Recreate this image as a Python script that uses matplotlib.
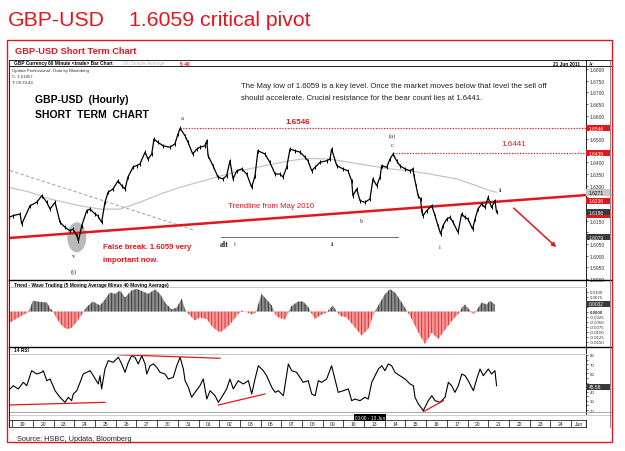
import numpy as np
import matplotlib.pyplot as plt
from matplotlib.lines import Line2D
from matplotlib.patches import Rectangle, Ellipse
from matplotlib.transforms import blended_transform_factory

W, H = 625, 452
RED = '#e3161d'

# x values are trading-day index: 0 = 19 May, one unit per day (24 hourly bars)
day_labels = ['19', '20', '23', '24', '25', '26', '27', '30', '31', '01', '02', '03', '06', '07',
              '08', '09', '10', '13', '14', '15', '16', '17', '20', '21', '22', '23', '24']

# GBP-USD hourly price path
price_t = [-0.15, 0.05, 0.38, 0.46, 0.86, 1.18, 1.43, 1.67, 1.83, 2.07,
           2.31, 2.55, 2.79, 2.94, 3.12, 3.20, 3.36, 3.60, 3.76, 4.00,
           4.14, 4.32, 4.48, 4.63, 4.87, 5.11, 5.29, 5.45, 5.59, 5.84,
           6.01, 6.17, 6.42, 6.56, 6.74, 6.85, 7.04, 7.29, 7.62, 7.86,
           8.01, 8.11, 8.35, 8.49, 8.72, 8.91, 9.07, 9.31, 9.40, 9.46,
           9.70, 9.94, 10.18, 10.36, 10.52, 10.67, 10.85, 11.09, 11.33, 11.57,
           11.73, 11.87, 12.21, 12.45, 12.70, 12.94, 13.08, 13.26, 13.42, 13.66,
           13.90, 14.14, 14.29, 14.47, 14.63, 14.87, 15.19, 15.35, 15.43, 15.68,
           15.98, 16.22, 16.40, 16.46, 16.64, 16.80, 17.04, 17.28, 17.43, 17.61,
           17.77, 17.85, 18.09, 18.25, 18.40, 18.57, 18.73, 18.98, 19.22, 19.35,
           19.41, 19.51, 19.61, 19.73, 19.78, 19.84, 20.02, 20.27, 20.43, 20.57,
           20.70, 20.81, 20.99, 21.15, 21.30, 21.54, 21.71, 21.87, 22.02, 22.24,
           22.36, 22.50, 22.68, 22.84, 22.99, 23.16, 23.32, 23.40]
price = [1.6165, 1.6172, 1.6179, 1.6136, 1.6214, 1.6229, 1.6257, 1.6229, 1.6200, 1.6229,
         1.6143, 1.6122, 1.6107, 1.6114, 1.6086, 1.6064, 1.6129, 1.6193, 1.6200, 1.6179,
         1.6171, 1.6143, 1.6229, 1.6272, 1.6286, 1.6321, 1.6300, 1.6286, 1.6337, 1.6380,
         1.6386, 1.6393, 1.6444, 1.6414, 1.6436, 1.6500, 1.6486, 1.6471, 1.6465, 1.6479,
         1.6522, 1.6546, 1.6514, 1.6487, 1.6436, 1.6457, 1.6465, 1.6471, 1.6493, 1.6429,
         1.6386, 1.6337, 1.6329, 1.6343, 1.6407, 1.6329, 1.6364, 1.6372, 1.6350, 1.6293,
         1.6343, 1.6450, 1.6436, 1.6400, 1.6350, 1.6350, 1.6337, 1.6379, 1.6457, 1.6450,
         1.6444, 1.6423, 1.6407, 1.6364, 1.6379, 1.6400, 1.6407, 1.6414, 1.6457, 1.6386,
         1.6372, 1.6364, 1.6321, 1.6257, 1.6286, 1.6236, 1.6229, 1.6243, 1.6329, 1.6300,
         1.6337, 1.6386, 1.6379, 1.6414, 1.6436, 1.6407, 1.6386, 1.6372, 1.6364, 1.6372,
         1.6343, 1.6300, 1.6257, 1.6243, 1.6193, 1.6171, 1.6193, 1.6214, 1.6171, 1.6129,
         1.6093, 1.6129, 1.6157, 1.6165, 1.6143, 1.6100, 1.6179, 1.6165, 1.6157, 1.6114,
         1.6157, 1.6200, 1.6222, 1.6207, 1.6250, 1.6207, 1.6236, 1.6186]

# 200 simple average
sma_t = [-0.15, 0.86, 1.83, 3.28, 4.24, 5.21, 6.17, 7.14, 8.11, 9.55, 11.00, 12.60,
         13.42, 14.23, 15.35, 16.32, 17.28, 18.25, 19.22, 20.18, 21.47, 22.44, 23.08, 23.40]
sma = [1.6293, 1.6272, 1.6243, 1.6214, 1.6200, 1.6200, 1.6229, 1.6264, 1.6293, 1.6329, 1.6364, 1.6393,
       1.6407, 1.6417, 1.6414, 1.6400, 1.6386, 1.6372, 1.6364, 1.6350, 1.6329, 1.6300, 1.6279, 1.6272]

# drawn lines
down_t, down_p = [-0.11, 8.78], [1.6365, 1.6110]
trend_t, trend_p = [-0.155, 27.72], [1.6076, 1.6260]
res_levels = [1.6546, 1.6441]
res_start = [8.11, 18.40]
alt_t, alt_p = [10.09, 18.64], [1.6080, 1.6080]
arrow_t, arrow_p = [24.13, 26.38], [1.6212, 1.6029]
low_t, low_p = 3.12, 1.6079

price_ticks = [1.5900, 1.5950, 1.6000, 1.6050, 1.6100, 1.6150, 1.6200, 1.6250, 1.6300, 1.6350,
               1.6400, 1.6450, 1.6500, 1.6550, 1.6600, 1.6650, 1.6700, 1.6750, 1.6800]
price_hidden = [1.6100, 1.6200, 1.6250, 1.6450, 1.6550]   # covered by the tags
price_tags = [1.6546, 1.6439, 1.6271, 1.6236, 1.6176, 1.6186, 1.6079]
price_tag_text = ['1.6546', '1.6439', '1.6271', '1.6236', '', '1.6186', '1.6079']
price_tag_fc = [RED, RED, '#c9c9c9', RED, RED, '#3a3a3a', '#3a3a3a']

# Trend - Wave Trading (5 MA minus 40 MA)
macd_t = [-0.20, 0.14, 0.47, 0.76, 0.86, 1.00, 1.34, 1.68, 1.83, 1.97,
          2.12, 2.31, 2.50, 2.65, 2.89, 3.13, 3.37, 3.57, 3.90, 4.24,
          4.48, 4.72, 4.97, 5.21, 5.45, 5.77, 6.01, 6.32, 6.56, 6.90,
          7.14, 7.38, 7.71, 7.95, 8.19, 8.35, 8.49, 8.83, 9.07, 9.40,
          9.70, 10.04, 10.36, 10.60, 10.91, 11.09, 11.25, 11.57, 11.78, 11.87,
          12.05, 12.29, 12.54, 12.70, 12.86, 13.18, 13.32, 13.47, 13.81, 14.05,
          14.29, 14.43, 14.63, 14.87, 15.19, 15.35, 15.50, 15.64, 15.84, 16.16,
          16.56, 16.88, 17.20, 17.44, 17.57, 17.77, 18.01, 18.25, 18.49, 18.82,
          19.06, 19.30, 19.54, 19.75, 19.94, 20.27, 20.58, 20.99, 21.31, 21.55,
          21.73, 21.87, 22.07, 22.28, 22.46, 22.68, 22.92, 23.08, 23.32]
macd = [-0.0060, -0.0040, -0.0020, -0.0005, 0.0015, 0.0054, 0.0048, 0.0045, 0.0015, 0.0003,
        -0.0030, -0.0060, -0.0080, -0.0088, -0.0080, -0.0050, -0.0015, 0.0020, 0.0050, 0.0030,
        0.0060, 0.0095, 0.0088, 0.0105, 0.0070, 0.0105, 0.0113, 0.0100, 0.0088, 0.0110,
        0.0088, 0.0045, 0.0010, 0.0020, 0.0065, 0.0010, -0.0010, -0.0045, -0.0030, -0.0038,
        -0.0080, -0.0105, -0.0080, -0.0055, -0.0013, 0.0005, 0.0000, -0.0015, -0.0005, 0.0030,
        0.0088, 0.0060, 0.0030, -0.0015, -0.0030, -0.0040, -0.0010, 0.0025, 0.0050, 0.0050,
        0.0025, -0.0005, -0.0038, -0.0020, -0.0005, 0.0015, 0.0030, 0.0005, -0.0022, -0.0030,
        -0.0080, -0.0120, -0.0088, -0.0020, 0.0010, 0.0045, 0.0087, 0.0112, 0.0095, 0.0045,
        0.0004, -0.0038, -0.0088, -0.0130, -0.0163, -0.0105, -0.0138, -0.0080, -0.0038, -0.0013,
        0.0020, 0.0035, 0.0010, -0.0015, 0.0010, 0.0045, 0.0035, 0.0054, 0.0035]
macd_ticks = [0.0100, 0.0075, 0.0050, 0.0025, 0.0000, -0.0025, -0.0050, -0.0075, -0.0100, -0.0125, -0.0150]
macd_hidden = [0.0050, 0.0025]
macd_tag = 0.0038

# 14 RSI
rsi_t = [-0.19, 0.05, 0.29, 0.54, 0.70, 0.94, 1.18, 1.43, 1.50, 1.67,
         1.83, 2.07, 2.31, 2.55, 2.71, 2.87, 2.95, 3.12, 3.28, 3.43,
         3.60, 3.76, 3.92, 4.16, 4.24, 4.32, 4.48, 4.64, 4.88, 5.13,
         5.29, 5.45, 5.61, 5.77, 5.93, 6.09, 6.26, 6.42, 6.50, 6.66,
         6.82, 6.98, 7.14, 7.38, 7.54, 7.78, 7.95, 8.11, 8.27, 8.35,
         8.51, 8.67, 8.83, 9.07, 9.23, 9.40, 9.56, 9.80, 9.96, 10.12,
         10.36, 10.52, 10.68, 10.92, 11.16, 11.41, 11.57, 11.73, 11.89, 12.13,
         12.29, 12.54, 12.70, 12.86, 13.10, 13.34, 13.50, 13.74, 13.90, 14.06,
         14.30, 14.47, 14.63, 14.79, 14.95, 15.19, 15.43, 15.59, 15.75, 16.00,
         16.24, 16.40, 16.56, 16.80, 17.04, 17.20, 17.37, 17.53, 17.69, 17.85,
         18.01, 18.17, 18.33, 18.49, 18.73, 18.98, 19.22, 19.38, 19.46, 19.62,
         19.86, 20.10, 20.27, 20.43, 20.67, 20.91, 21.07, 21.23, 21.39, 21.55,
         21.72, 21.88, 22.03, 22.28, 22.44, 22.60, 22.76, 23.00, 23.16, 23.32, 23.40]
rsi = [41.1, 46.5, 43.0, 50.2, 46.5, 62.9, 59.3, 61.1, 62.9, 52.0,
       53.8, 41.1, 33.9, 28.4, 33.9, 30.2, 37.5, 41.1, 50.2, 59.3,
       61.1, 62.9, 57.4, 48.4, 57.4, 43.0, 64.7, 73.8, 72.0, 77.5,
       70.2, 61.1, 72.0, 79.2, 77.5, 70.2, 79.2, 70.2, 59.3, 68.3,
       70.2, 66.6, 61.1, 59.3, 53.8, 55.7, 68.3, 77.5, 64.7, 52.0,
       44.8, 33.9, 39.3, 46.5, 53.8, 32.0, 41.1, 35.6, 28.4, 33.9,
       43.0, 53.8, 43.0, 52.0, 48.4, 52.0, 37.5, 53.8, 68.3, 62.9,
       57.4, 44.8, 39.3, 41.1, 35.6, 70.2, 62.9, 61.1, 55.7, 50.2,
       52.0, 37.5, 35.6, 52.0, 50.2, 53.8, 68.3, 53.8, 39.3, 41.1,
       43.0, 30.2, 32.0, 30.2, 33.9, 32.0, 50.2, 57.4, 64.7, 68.3,
       62.9, 70.2, 68.3, 61.1, 57.4, 53.8, 48.4, 46.5, 33.9, 26.7,
       19.4, 30.2, 35.6, 30.2, 28.4, 33.9, 50.2, 46.5, 39.3, 46.5,
       59.3, 57.4, 52.0, 41.1, 53.8, 64.7, 57.4, 64.7, 59.3, 62.9, 46.5]
rsi_trend_t = [[-0.19, 4.48], [5.13, 10.04], [9.96, 12.21], [19.86, 20.83]]
rsi_trend_v = [[25.5, 28.4], [80.3, 76.4], [25.5, 37.5], [18.2, 30.2]]
rsi_ticks = [20, 25, 30, 35, 40, 45, 50, 55, 60, 65, 70, 75, 80]
rsi_labelled = [20, 30, 40, 60, 70, 80]
rsi_tag = 45.58

plt.rcParams['font.family'] = ['Liberation Sans', 'DejaVu Sans']
plt.rcParams['hatch.linewidth'] = 0.6
SERIF = ['Liberation Serif', 'DejaVu Serif']

XL = (-0.155, 27.72)

fig = plt.figure(figsize=(6.25, 4.52), dpi=100)


def text_px(x, y, s, **kw):
    kw.setdefault('va', 'center')
    return fig.text(x / W, 1 - y / H, s, **kw)


def line_px(xs, ys, color='black', lw=0.6):
    fig.add_artist(Line2D([x / W for x in xs], [1 - y / H for y in ys], color=color, lw=lw))


def panel(x0, y0, x1, y1):
    ax = fig.add_axes([x0 / W, 1 - y1 / H, (x1 - x0) / W, (y1 - y0) / H])
    ax.set_facecolor('none')
    for s in ['top', 'bottom', 'left']:
        ax.spines[s].set_visible(False)
    ax.spines['right'].set_linewidth(0.6)
    ax.set_xlim(XL)
    ax.set_xticks([])
    ax.yaxis.tick_right()
    ax.tick_params(axis='y', direction='out', length=1.5, width=0.4, pad=1,
                   labelsize=3.5, labelcolor='#333333')
    return ax


def tag(ax, v, s, fc, h, tc='white'):
    tr = blended_transform_factory(ax.transAxes, ax.transData)
    ax.add_patch(Rectangle((1.0, v - h / 2), 24 / 577, h, transform=tr, fc=fc, ec='none',
                           clip_on=False, zorder=6))
    ax.text(1.0 + 3 / 577, v, s, transform=tr, fontsize=3.5, color=tc, va='center',
            ha='left', clip_on=False, zorder=7)


# outer red frame and titles
fig.add_artist(Rectangle((6.5 / W, 1 - 443 / H), 605 / W, 402 / H, transform=fig.transFigure,
                         fill=False, ec=RED, lw=1.0))
text_px(8, 26.5, 'GBP-USD', fontsize=15.3, color=RED, va='baseline')
text_px(129, 26.5, '1.6059 critical pivot', fontsize=15.3, color=RED, va='baseline')
text_px(15, 51, 'GBP-USD Short Term Chart', fontsize=6.7, weight='bold', color=RED)

# header strip
text_px(14, 64, 'GBP Currency 60 Minute <trade> Bar Chart', fontsize=3.4, weight='bold')
text_px(122, 64, '200 Simple Average', fontsize=3.4, color='#bbbbbb')
text_px(180, 64, '5 40', fontsize=3.4, weight='bold', color=RED)
text_px(580, 64, '21 Jun 2011', fontsize=3.4, weight='bold', ha='right')
text_px(589, 64, 'Ar', fontsize=3.4)
text_px(12, 71, 'Updata Professional : Data by Bloomberg', fontsize=3.1, color='#333333')
text_px(12, 77, 'C: 1.61857', fontsize=3.1, color='#333333')
text_px(12, 83, 'T: 09:39:44', fontsize=3.1, color='#333333')

# ---- price panel ----
ax_p = panel(9, 67, 586, 281)
ax_p.set_ylim(1.5896, 1.6813)
ax_p.set_yticks(price_ticks)
ax_p.set_yticklabels(['' if v in price_hidden else f'{v:.4f}' for v in price_ticks])
ax_p.add_patch(Ellipse((low_t, low_p), 0.92, 0.0129, fc='#b9b9b9', ec='none', zorder=1))
ax_p.plot(sma_t, sma, color='#c4c4c4', lw=0.9, zorder=2)
ax_p.plot(down_t, down_p, color='#a8a8a8', lw=0.8, ls=(0, (3, 2)), zorder=2)
ax_p.plot(trend_t, trend_p, color=RED, lw=1.8, zorder=3)
for lv, st in zip(res_levels, res_start):
    ax_p.plot([st, XL[1]], [lv, lv], color=RED, lw=0.9, ls=(0, (1, 1.2)), zorder=3)
ax_p.plot(alt_t, alt_p, color='#555555', lw=0.6, zorder=2)
ax_p.plot(price_t, price, color='black', lw=0.9, marker='|', ms=3.2, mew=0.7, zorder=4)
ax_p.annotate('', xy=(arrow_t[1], arrow_p[1]), xytext=(arrow_t[0], arrow_p[0]),
              arrowprops=dict(arrowstyle='-|>', color=RED, lw=1.1, mutation_scale=6))
for v, s, fc in zip(price_tags, price_tag_text, price_tag_fc):
    tag(ax_p, v, s, fc, 0.0026, 'black' if fc == '#c9c9c9' else 'white')

# annotations on price panel
text_px(35, 100, 'GBP-USD  (Hourly)', fontsize=7.5, weight='bold')
text_px(35, 115, 'SHORT  TERM  CHART', fontsize=7.5, weight='bold')
text_px(241, 87, 'The May low of 1.6059 is a key level. Once the market moves below that level the sell off',
        fontsize=5.6, color='#222222')
text_px(241, 98, 'should accelerate. Crucial resistance for the bear count lies at 1.6441.',
        fontsize=5.6, color='#222222')
text_px(298, 123, '1.6546', fontsize=5.8, weight='bold', color=RED, ha='center')
text_px(514, 145, '1.6441', fontsize=5.8, color=RED, ha='center')
text_px(228, 207, 'Trendline from May 2010', fontsize=5.6, color=RED)
text_px(103, 248, 'False break. 1.6059 very', fontsize=5.6, weight='bold', color=RED)
text_px(103, 260, 'important now.', fontsize=5.6, weight='bold', color=RED)
for x, y, s in [(182, 119, 'a'), (392, 136, '(a)'), (392, 146, 'c'), (362, 222, 'b'),
                (440, 248, 'i'), (501, 191, 'ii'), (74, 257, 'v'), (74, 272, '(i)'),
                (333, 245, 'ii')]:
    text_px(x, y, s, fontsize=4.8, color='#333333', ha='center', family=SERIF)
text_px(220, 245, 'alt', fontsize=5.8, weight='bold', color='#222222', family=SERIF)
text_px(234, 245, 'i', fontsize=4.8, color='#333333', family=SERIF)

# ---- trend / wave panel ----
ax_m = panel(9, 281, 586, 348)
ax_m.set_ylim(-0.01775, 0.01575)
ax_m.set_yticks(macd_ticks)
ax_m.set_yticklabels(['' if v in macd_hidden else f'{v:.4f}' for v in macd_ticks])
ax_m.tick_params(axis='y', labelsize=3.2)
for lab, v in zip(ax_m.get_yticklabels(), macd_ticks):
    if v == 0:
        lab.set_fontweight('bold')
mt = np.array(macd_t)
mv = np.array(macd)
ax_m.fill_between(mt, mv, 0, where=mv >= 0, interpolate=True, facecolor='#8c8c8c',
                  edgecolor='#2e2e2e', hatch='|||||', lw=0)
ax_m.fill_between(mt, mv, 0, where=mv <= 0, interpolate=True, facecolor='#f59a9a',
                  edgecolor='#e02020', hatch='|||||', lw=0)
tag(ax_m, macd_tag, '0.0032', '#3a3a3a', 0.0030)
text_px(14, 285, 'Trend - Wave Trading (5 Moving Average Minus 40 Moving Average)',
        fontsize=3.4, weight='bold')

# ---- RSI panel ----
ax_r = panel(9, 349, 586, 415)
ax_r.set_ylim(15.7, 87.6)
ax_r.set_yticks(rsi_ticks)
ax_r.set_yticklabels([str(v) if v in rsi_labelled else '' for v in rsi_ticks])
ax_r.tick_params(axis='y', labelsize=3.2)
ax_r.plot(rsi_t, rsi, color='black', lw=0.8, zorder=3)
for tt, vv in zip(rsi_trend_t, rsi_trend_v):
    ax_r.plot(tt, vv, color=RED, lw=0.9, zorder=4)
tag(ax_r, rsi_tag, f'{rsi_tag:.2f}', '#3a3a3a', 6.5)
text_px(14, 351, '14 RSI', fontsize=3.4, weight='bold')
text_px(370, 418.5, '00:00 - 13 Jun', fontsize=3.4, color='white', ha='center',
        bbox=dict(boxstyle='square,pad=0.25', fc='black', ec='none'))

# ---- date strip ----
ax_d = panel(9, 421, 586, 428)
ax_d.set_ylim(0, 1)
ax_d.set_yticks([])
ax_d.vlines(range(0, len(day_labels) + 1), 0, 1, color='black', lw=0.5)
for i, lab in enumerate(day_labels):
    ax_d.text(i + 0.5, 0.5, lab, fontsize=3.6, ha='center', va='center', color='#222222')
ax_d.text(27.2, 0.5, 'Jun', fontsize=3.6, ha='left', va='center', color='#222222')

# frame lines of the chart window
line_px([9, 611], [61, 61])
line_px([9, 611], [67, 67])
line_px([9, 611], [281, 281], lw=1.0)
line_px([9, 611], [348, 348], lw=1.0)
line_px([9, 586], [287.5, 287.5], color='#c8c8c8', lw=0.7)
line_px([9, 586], [355, 355], color='#c8c8c8', lw=0.7)
line_px([9, 611], [413, 413], color='#9a9a9a', lw=0.6)
line_px([9, 611], [415.5, 415.5], color='#c8c8c8', lw=0.6)
line_px([9, 586], [421, 421], lw=0.5)
line_px([9, 586], [428, 428], lw=0.5)
line_px([9, 9], [61, 428])
line_px([586, 586], [61, 67])
line_px([610, 610], [61, 428], color='#777777')

text_px(17, 440, 'Source: HSBC, Updata, Bloomberg', fontsize=5.3, color='#222222')

fig.savefig('out.png', dpi=100)
